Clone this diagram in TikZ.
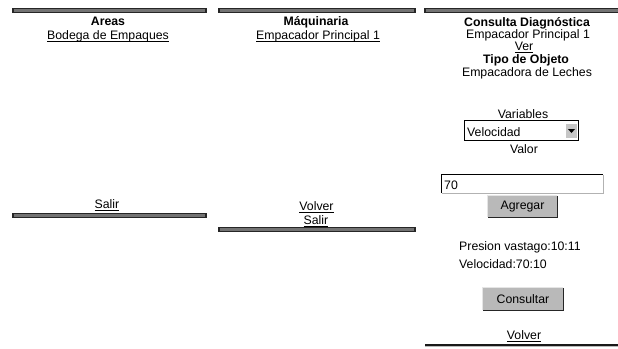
\documentclass[tikz,border=0pt]{standalone}
\usepackage{fontspec}
\setmainfont{Liberation Sans}
\newcommand\myul[1]{\setbox0\hbox{#1}\rlap{\rule[-2.6pt]{\wd0}{0.8pt}}\box0}
\tikzset{
  txt/.style={inner sep=0pt, anchor=base, font=\fontsize{12.3pt}{14pt}\selectfont},
  btxt/.style={txt, font=\fontsize{12.3pt}{14pt}\selectfont\bfseries},
  ltxt/.style={txt, anchor=base west},
  hbar/.style={fill=black!55, draw=black!85, line width=1.1pt},
  btn/.style={fill=gray!55, draw=none, inner sep=0pt, font=\fontsize{12.3pt}{14pt}\selectfont},
  field/.style={fill=white, draw=none, inner sep=0pt},
}
\begin{document}
\begin{tikzpicture}[x=1pt,y=-1pt]
\useasboundingbox[fill=white] (0,0) rectangle (618,348);
% top bars
\draw[hbar] (13,8.2) rectangle (206,12.8);
\draw[hbar] (219,8.2) rectangle (415,12.8);
\draw[hbar] (425,8.2) rectangle (619,12.8);
% column 1
\node[btxt] (areas) at (108,25.5) {Areas};
\node[txt] (bodega) at (108,39) {\myul{Bodega de Empaques}};
\node[txt] (salir1) at (107,208) {\myul{Salir}};
\draw[hbar] (13,213.2) rectangle (206,217.8);
% column 2
\node[btxt] (maq) at (316,25.5) {Máquinaria};
\node[txt] (emp2) at (318,39) {\myul{Empacador Principal 1}};
\node[txt] (volver2) at (316.5,210) {\myul{Volver}};
\node[txt] (salir2) at (316,224) {\myul{Salir}};
\draw[hbar] (219,227.2) rectangle (415,231.8);
% column 3
\node[btxt] (consulta) at (527,26) {Consulta Diagnóstica};
\node[txt] (emp3) at (528,38.5) {Empacador Principal 1};
\node[txt] (ver) at (524,50.5) {\myul{Ver}};
\node[btxt] (tipo) at (526,63) {Tipo de Objeto};
\node[txt] (leches) at (527,76.5) {Empacadora de Leches};
\node[txt] (vars) at (523,118) {Variables};
% dropdown
\node[field, minimum width=113pt, minimum height=19pt] (drop) at (521.5,130.5) {};
\draw[black, line width=1pt] (drop.south west) -- (drop.north west) -- (drop.north east) -- (drop.south east) -- cycle;
\node[ltxt] (vel) at (467,136) {Velocidad};
\node[fill=gray!45, inner sep=0pt, minimum width=11pt, minimum height=14pt] (arrowbtn) at (571.5,130.5) {};
\fill[black] ([xshift=-3.5pt,yshift=1.5pt]arrowbtn.center) -- ([xshift=3.5pt,yshift=1.5pt]arrowbtn.center) -- ([yshift=-2.5pt]arrowbtn.center) -- cycle;
\node[txt] (valor) at (524,153) {Valor};
% text input
\node[field, minimum width=161pt, minimum height=18pt] (input) at (522.5,184) {};
\draw[gray!60, line width=0.8pt] (input.north east) -- (input.south east) -- (input.south west);
\draw[black, line width=1.2pt] (input.south west) -- (input.north west) -- (input.north east);
\node[ltxt] (seventy) at (444,189) {70};
% Agregar button
\node[btn, minimum width=69pt, minimum height=21pt] (agregar) at (522.5,206.5) {Agregar};
\draw[black!85, line width=1pt] (agregar.north east) -- (agregar.south east) -- (agregar.south west);
\draw[gray!20, line width=0.8pt] (agregar.south west) -- (agregar.north west) -- (agregar.north east);
% results
\node[ltxt] (presion) at (459,250) {Presion vastago:10:11};
\node[ltxt] (velres) at (459,268) {Velocidad:70:10};
% Consultar button
\node[btn, minimum width=80pt, minimum height=22pt] (consultar) at (523,299) {Consultar};
\draw[black!85, line width=1pt] (consultar.north east) -- (consultar.south east) -- (consultar.south west);
\draw[gray!20, line width=0.8pt] (consultar.south west) -- (consultar.north west) -- (consultar.north east);
\node[txt] (volver3) at (524,339.5) {\myul{Volver}};
\draw[black!90, line width=1.4pt] (425,345) -- (619,345);
\draw[gray!55, line width=1pt] (425,346.8) -- (619,346.8);
\end{tikzpicture}
\end{document}
